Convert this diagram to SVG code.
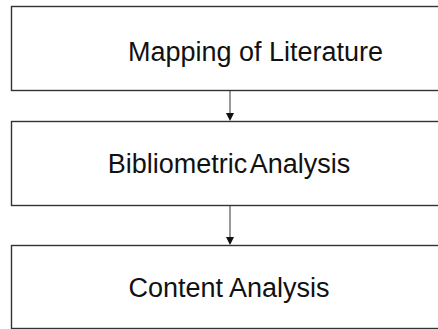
<svg xmlns="http://www.w3.org/2000/svg" width="438" height="329" viewBox="0 0 438 329">
  <style>
    .box { fill: #ffffff; stroke: #333333; stroke-width: 1.4; }
    .label { font-family: "Liberation Sans", Arial, sans-serif; font-size: 27px; fill: #111111; text-anchor: middle; }
    .edge { stroke: #555555; stroke-width: 1.2; fill: none; }
    .head { fill: #111111; }
  </style>
  <rect width="438" height="329" fill="#ffffff"/>
  <g id="connectors">
    <line class="edge" x1="230" y1="91" x2="230" y2="114"/>
    <polygon class="head" points="226,113 234,113 230,121"/>
    <line class="edge" x1="230" y1="205" x2="230" y2="238"/>
    <polygon class="head" points="226,237 234,237 230,245"/>
  </g>
  <g id="mapping">
    <rect class="box" x="11.5" y="6.5" width="460" height="84"/>
    <text class="label" x="255.5" y="61">Mapping of Literature</text>
  </g>
  <g id="bibliometric">
    <rect class="box" x="11.5" y="121.5" width="460" height="84"/>
    <text class="label" x="229" y="173" word-spacing="-3.5">Bibliometric Analysis</text>
  </g>
  <g id="content">
    <rect class="box" x="11.5" y="245.5" width="460" height="83"/>
    <text class="label" x="229" y="297">Content Analysis</text>
  </g>
</svg>
